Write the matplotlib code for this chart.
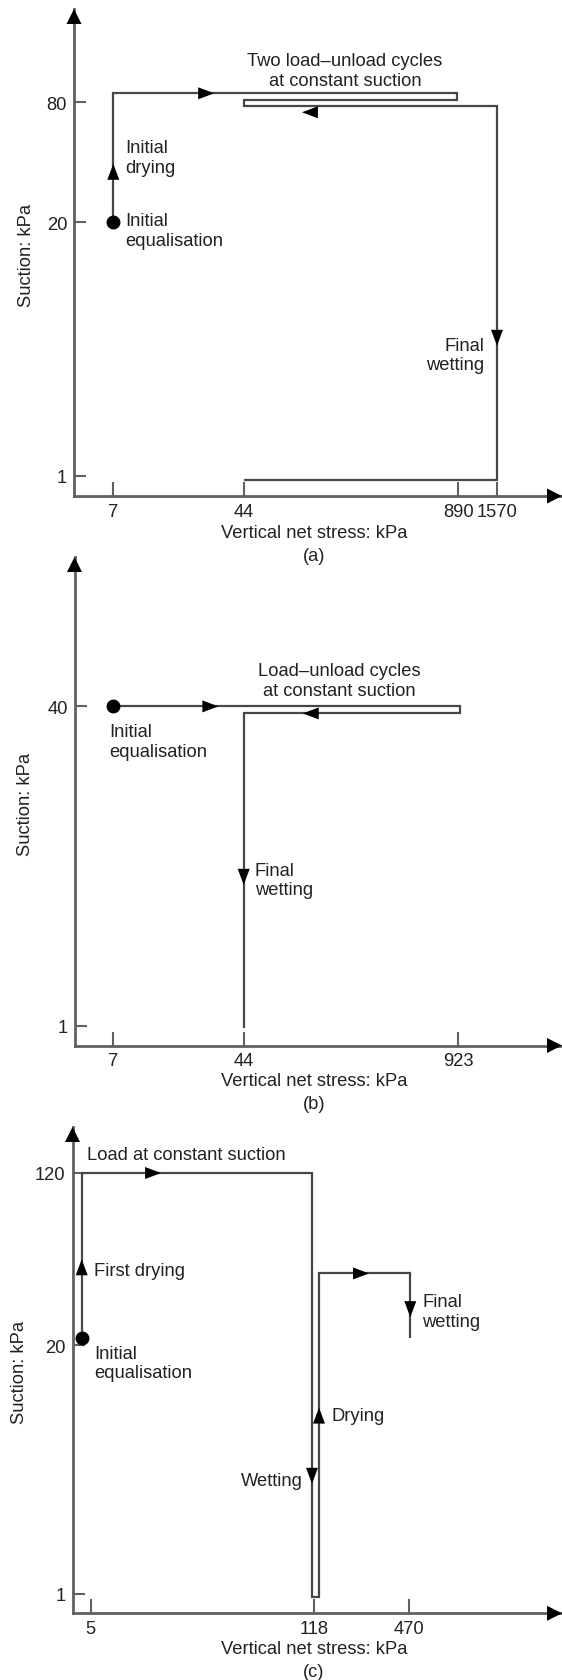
import numpy as np
import matplotlib
matplotlib.use("Agg")
import matplotlib.pyplot as plt
from matplotlib.patches import Polygon
from matplotlib.transforms import IdentityTransform

plt.rcParams["font.family"] = ["Liberation Sans", "DejaVu Sans"]
plt.rcParams["font.size"] = 13.2

W, H = 562, 1681
TEXT = "#222222"
AXIS = "#606060"
PATH = "#474747"

# (a) two load-unload cycles at constant suction, then wetting
stress_ticks_a = [7, 44, 890, 1570]
suction_ticks_a = [1, 20, 80]
path_stress_a = [7, 7, 890, 890, 44, 44, 1570, 1570, 44]
path_suction_a = [20, 80, 80, 80, 80, 80, 80, 1, 1]

# (b) load-unload at 40 kPa, then wetting
stress_ticks_b = [7, 44, 923]
suction_ticks_b = [1, 40]
path_stress_b = [7, 923, 923, 44, 44]
path_suction_b = [40, 40, 40, 40, 1]

# (c) drying, loading, wetting, drying, loading, final wetting
stress_ticks_c = [5, 118, 470]
suction_ticks_c = [1, 20, 120]
path_stress_c = [5, 5, 118, 118, 118, 118, 470, 470]
path_suction_c = [20, 120, 120, 1, 1, 60, 60, 20]


def piecewise(vals, pos):
    # linear between knots, linear extrapolation outside
    vals = np.asarray(vals, float)
    pos = np.asarray(pos, float)

    def f(v):
        v = np.asarray(v, float)
        out = np.interp(v, vals, pos)
        lo = pos[0] + (v - vals[0]) * (pos[1] - pos[0]) / (vals[1] - vals[0])
        hi = pos[-1] + (v - vals[-1]) * (pos[-1] - pos[-2]) / (vals[-1] - vals[-2])
        return np.where(v < vals[0], lo, np.where(v > vals[-1], hi, out))

    def g(p):
        p = np.asarray(p, float)
        out = np.interp(p, pos, vals)
        lo = vals[0] + (p - pos[0]) * (vals[1] - vals[0]) / (pos[1] - pos[0])
        hi = vals[-1] + (p - pos[-1]) * (vals[-1] - vals[-2]) / (pos[-1] - pos[-2])
        return np.where(p < pos[0], lo, np.where(p > pos[-1], hi, out))

    return f, g


def head(ax, cx, cy, dx, dy, length=16, width=12):
    d = np.array([dx, dy], float)
    d /= np.hypot(*d)
    n = np.array([-d[1], d[0]])
    c = np.array([cx, cy])
    verts = [c + d * length / 2,
             c - d * length / 2 + n * width / 2,
             c - d * length / 2 - n * width / 2]
    ax.add_patch(Polygon(verts, closed=True, facecolor="black", edgecolor="none",
                         transform=IdentityTransform(), clip_on=False, zorder=4))


def label(fig, s, x, y, ha="left", **kw):
    fig.text(x / W, 1 - (y + 1.5) / H, s, ha=ha, va="center", color=TEXT,
             multialignment=ha if ha != "center" else "center", **kw)


panels = [
    dict(xt=stress_ticks_a, yt=suction_ticks_a, ps=path_stress_a, pu=path_suction_a,
         corner=(74, 497), top=10, right=562,
         xpx=[113.3, 243.7, 458.3, 497], ypx=[476.7, 223, 103.3],
         nudge=[(0, 0), (0, -9), (-1, -9), (-1, -2), (0, -2), (0, 4), (0, 4), (0, 4), (0, 4)],
         arrows=[(0, 0.39, 0), (1, 0.27, 0), (3, 0.69, 12), (6, 0.62, 0)],
         notes=[("Two load\u2013unload cycles\nat constant suction", 345, 70, "center"),
                ("Initial\ndrying", 125, 157, "left"),
                ("Initial\nequalisation", 125, 230, "left"),
                ("Final\nwetting", 484, 354.5, "right")],
         ylab=(27, 254), xlab=531.7, tag=("(a)", 555)),
    dict(xt=stress_ticks_b, yt=suction_ticks_b, ps=path_stress_b, pu=path_suction_b,
         corner=(74.5, 1046.5), top=558, right=562,
         xpx=[113.3, 243.7, 458], ypx=[1026.7, 707.4],
         nudge=[(0, 0), (2, 0), (2, 7), (0, 7), (0, 2)],
         arrows=[(0, 0.28, 0), (2, 0.69, 0), (3, 0.52, 0)],
         notes=[("Load\u2013unload cycles\nat constant suction", 339, 680, "center"),
                ("Initial\nequalisation", 109, 741, "left"),
                ("Final\nwetting", 255, 879.5, "left")],
         ylab=(26, 803), xlab=1080.5, tag=("(b)", 1103)),
    dict(xt=stress_ticks_c, yt=suction_ticks_c, ps=path_stress_c, pu=path_suction_c,
         corner=(72.5, 1614.3), top=1128, right=562,
         xpx=[90.7, 314, 409.3], ypx=[1594.5, 1346.4, 1174],
         nudge=[(-9, -7), (-9, 0), (-2, 0), (-2, 3), (5, 3), (5, -3), (1, -3), (1, -7)],
         arrows=[(0, 0.43, 0), (1, 0.31, 0), (2, 0.715, 0), (4, 0.56, 0),
                 (5, 0.46, 0), (6, 0.55, 0)],
         notes=[("Load at constant suction", 86.7, 1153.7, "left"),
                ("First drying", 94, 1269.7, "left"),
                ("Initial\nequalisation", 94, 1362.7, "left"),
                ("Drying", 331.5, 1415, "left"),
                ("Wetting", 303, 1480, "right"),
                ("Final\nwetting", 422, 1311, "left")],
         ylab=(20, 1371), xlab=1648.3, tag=("(c)", 1671)),
]

fig = plt.figure(figsize=(W / 100, H / 100), dpi=100)

for p in panels:
    cx, cy = p["corner"]
    ax = fig.add_axes([cx / W, (H - cy) / H, (p["right"] - cx) / W, (cy - p["top"]) / H])
    ax.patch.set_visible(False)

    fx, gx = piecewise(p["xt"], p["xpx"])
    fy, gy = piecewise(p["yt"], [H - v for v in p["ypx"]])
    ax.set_xscale("function", functions=(fx, gx))
    ax.set_yscale("function", functions=(fy, gy))
    ax.set_xlim(gx(cx), gx(p["right"]))
    ax.set_ylim(gy(H - cy), gy(H - p["top"]))

    for side in ("top", "right"):
        ax.spines[side].set_visible(False)
    for side in ("left", "bottom"):
        ax.spines[side].set_linewidth(2.0)
        ax.spines[side].set_color(AXIS)
    ax.set_xticks(p["xt"], labels=[str(v) for v in p["xt"]])
    ax.set_yticks(p["yt"], labels=[str(v) for v in p["yt"]])
    ax.tick_params(axis="x", direction="in", length=10, width=1.5, color=AXIS,
                   pad=5, labelcolor=TEXT)
    ax.tick_params(axis="y", direction="in", length=8.5, width=1.5, color=AXIS,
                   pad=5, labelcolor=TEXT)

    # axis arrowheads
    head(ax, cx, H - p["top"] - 7.5, 0, 1, length=15, width=15)
    head(ax, p["right"] - 7.5, H - cy, 1, 0, length=15, width=15)

    # stress path in display pixels, with small nudges to separate overlapping legs
    pts = ax.transData.transform(np.column_stack([p["ps"], p["pu"]]).astype(float))
    nud = np.array(p["nudge"], float)
    pts[:, 0] += nud[:, 0]
    pts[:, 1] -= nud[:, 1]
    ax.plot(pts[:, 0], pts[:, 1], color=PATH, lw=1.6, transform=IdentityTransform(),
            solid_joinstyle="miter", solid_capstyle="butt", clip_on=False, zorder=3)
    ax.plot(pts[0, 0], pts[0, 1], "o", color="black", ms=9,
            transform=IdentityTransform(), clip_on=False, zorder=5)

    for seg, frac, off in p["arrows"]:
        a, b = pts[seg], pts[seg + 1]
        m = a + (b - a) * frac
        head(ax, m[0], m[1] - off, *(b - a))

    for s, x, y, ha in p["notes"]:
        label(fig, s, x, y, ha=ha)
    label(fig, "Suction: kPa", p["ylab"][0], p["ylab"][1], ha="center", rotation=90)
    label(fig, "Vertical net stress: kPa", 314, p["xlab"], ha="center")
    label(fig, p["tag"][0], 314, p["tag"][1], ha="center")

fig.savefig("out.png", dpi=100)
